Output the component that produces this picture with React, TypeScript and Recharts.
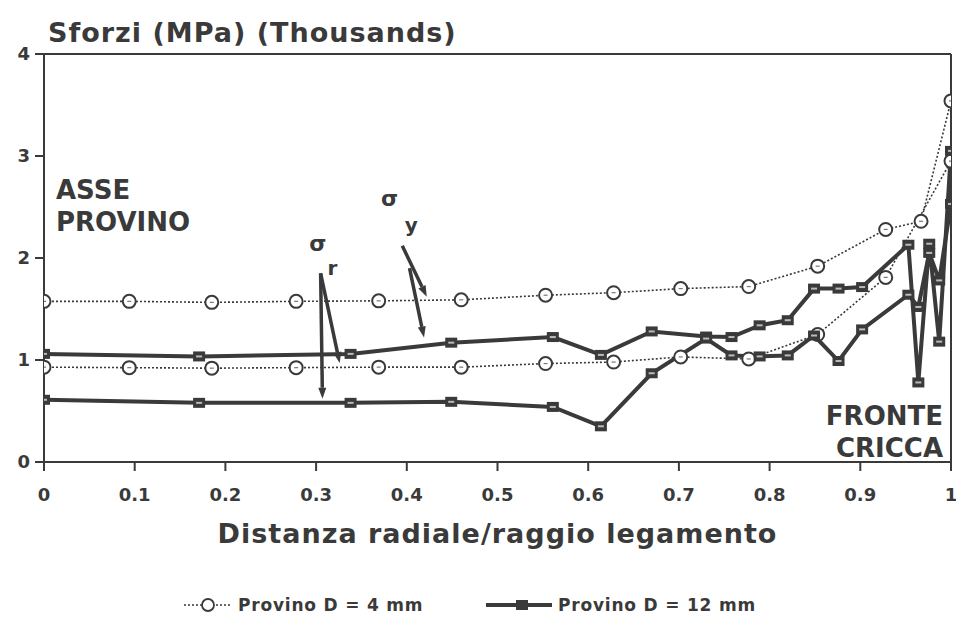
import React from "react";
import { LineChart, Line, XAxis, YAxis, ReferenceLine, ReferenceDot } from "recharts";

const xTicks = [0, 0.1, 0.2, 0.3, 0.4, 0.5, 0.6, 0.7, 0.8, 0.9, 1];
const yTicks = [0, 1, 2, 3, 4];

const d4UpperX = [0, 0.094, 0.185, 0.278, 0.369, 0.46, 0.553, 0.628, 0.702, 0.777, 0.853, 0.928, 0.967, 1.0];
const d4UpperY = [1.575, 1.575, 1.565, 1.575, 1.58, 1.59, 1.635, 1.66, 1.7, 1.72, 1.92, 2.28, 2.36, 3.54];

const d4LowerX = [0, 0.094, 0.185, 0.278, 0.369, 0.46, 0.553, 0.628, 0.702, 0.777, 0.853, 0.928, 1.0];
const d4LowerY = [0.93, 0.925, 0.92, 0.925, 0.93, 0.93, 0.965, 0.98, 1.03, 1.01, 1.25, 1.81, 2.95];

const d12X = [0, 0.171, 0.338, 0.449, 0.561, 0.614, 0.67, 0.73, 0.758, 0.789, 0.82, 0.849, 0.876, 0.902, 0.953, 0.964, 0.976, 0.987, 1.0];
const d12UpperY = [1.06, 1.035, 1.06, 1.17, 1.225, 1.05, 1.28, 1.23, 1.225, 1.34, 1.39, 1.7, 1.7, 1.715, 2.13, 0.78, 2.14, 1.18, 3.05];
const d12LowerY = [0.61, 0.58, 0.58, 0.59, 0.54, 0.35, 0.87, 1.21, 1.045, 1.035, 1.045, 1.24, 0.99, 1.3, 1.64, 1.52, 2.05, 1.78, 2.53];

const toPts = (xs: number[], ys: number[]) => xs.map((x, i) => ({ x, y: ys[i] }));

const sigmaRArrows = [
  [{ x: 0.305, y: 1.85 }, { x: 0.307, y: 0.62 }],
  [{ x: 0.305, y: 1.85 }, { x: 0.326, y: 0.97 }],
];
const sigmaYArrows = [
  [{ x: 0.395, y: 2.12 }, { x: 0.422, y: 1.62 }],
  [{ x: 0.403, y: 1.9 }, { x: 0.419, y: 1.22 }],
];
const sigmaLabels = [
  { x: 0.302, y: 2.14, t: "σ", size: 22 },
  { x: 0.318, y: 1.9, t: "r", size: 20 },
  { x: 0.381, y: 2.58, t: "σ", size: 22 },
  { x: 0.405, y: 2.32, t: "y", size: 20 },
];

const INK = "#3a3a3a";
const FONT = "'DejaVu Sans', Verdana, sans-serif";

const CircleDot = (props: any) => {
  const { cx, cy } = props;
  if (cx == null || cy == null) return null;
  return (
    <g>
      <circle cx={cx} cy={cy} r={6.5} fill="#fff" stroke={INK} strokeWidth={2} />
      <line x1={cx - 2} x2={cx + 2} y1={cy} y2={cy} stroke="#777" strokeWidth={1.2} />
    </g>
  );
};

const SquareDot = (props: any) => {
  const { cx, cy } = props;
  if (cx == null || cy == null) return null;
  return (
    <g>
      <rect x={cx - 6} y={cy - 5} width={12} height={10} fill={INK} />
      <rect x={cx - 3} y={cy - 1} width={6} height={2} fill="#bbb" />
    </g>
  );
};

const ArrowShape = (p: any) => {
  const { x1, y1, x2, y2 } = p;
  if ([x1, y1, x2, y2].some((v) => v == null || isNaN(v))) return null;
  const ang = Math.atan2(y2 - y1, x2 - x1);
  const L = 11;
  const W = 4;
  const bx = x2 - L * Math.cos(ang);
  const by = y2 - L * Math.sin(ang);
  const nx = -Math.sin(ang);
  const ny = Math.cos(ang);
  return (
    <g>
      <line x1={x1} y1={y1} x2={bx} y2={by} stroke={INK} strokeWidth={3.5} />
      <polygon
        points={`${x2},${y2} ${bx + nx * W},${by + ny * W} ${bx - nx * W},${by - ny * W}`}
        fill={INK}
      />
    </g>
  );
};

const LegendIcon = ({ kind }: { kind: "c" | "s" }) => (
  <svg width={66} height={20}>
    {kind === "c" ? (
      <g>
        <line x1={0} x2={48} y1={10} y2={10} stroke={INK} strokeWidth={1.5} strokeDasharray="2 2" />
        <circle cx={24} cy={10} r={6} fill="#fff" stroke={INK} strokeWidth={1.8} />
      </g>
    ) : (
      <g>
        <line x1={0} x2={66} y1={10} y2={10} stroke={INK} strokeWidth={4} />
        <rect x={30} y={5} width={12} height={10} fill={INK} />
      </g>
    )}
  </svg>
);

const legendText: React.CSSProperties = {
  position: "absolute",
  fontFamily: FONT,
  fontWeight: 700,
  fontSize: 17,
  letterSpacing: 0.8,
  color: INK,
  whiteSpace: "nowrap",
  lineHeight: "20px",
};

export default function App() {
  return (
    <div style={{ position: "absolute", left: 0, top: 0, width: 956, height: 619, background: "#fff" }}>
      <div
        style={{
          position: "absolute",
          left: 48,
          top: 17,
          fontFamily: FONT,
          fontWeight: 700,
          fontSize: 27,
          letterSpacing: 1,
          color: INK,
          whiteSpace: "nowrap",
        }}
      >
        Sforzi (MPa) (Thousands)
      </div>
      <LineChart width={956} height={619} margin={{ top: 54, right: 5, bottom: 0, left: 0 }}>
        <XAxis
          dataKey="x"
          type="number"
          domain={[0, 1]}
          ticks={xTicks}
          allowDataOverflow
          height={157}
          tickSize={9}
          tickMargin={17}
          stroke={INK}
          strokeWidth={2}
          tick={{ fontSize: 18, fontWeight: 700, fill: INK, fontFamily: FONT }}
          tickFormatter={(v: number) => String(v)}
          label={{
            value: "Distanza radiale/raggio legamento",
            position: "insideTop",
            offset: 62,
            style: { fontSize: 27, fontWeight: 700, fill: INK, fontFamily: FONT, letterSpacing: 1 },
          }}
        />
        <YAxis
          type="number"
          domain={[0, 4]}
          ticks={yTicks}
          width={44}
          tickSize={9}
          tickMargin={5}
          stroke={INK}
          strokeWidth={2}
          tick={{ fontSize: 18, fontWeight: 700, fill: INK, fontFamily: FONT }}
        />
        <ReferenceLine y={4} stroke={INK} strokeWidth={2} />
        <ReferenceLine x={1} stroke={INK} strokeWidth={2} />

        <Line
          data={toPts(d4UpperX, d4UpperY)}
          dataKey="y"
          type="linear"
          stroke={INK}
          strokeWidth={1.6}
          strokeDasharray="2 2"
          dot={<CircleDot />}
          isAnimationActive={false}
        />
        <Line
          data={toPts(d4LowerX, d4LowerY)}
          dataKey="y"
          type="linear"
          stroke={INK}
          strokeWidth={1.6}
          strokeDasharray="2 2"
          dot={<CircleDot />}
          isAnimationActive={false}
        />
        <Line
          data={toPts(d12X, d12UpperY)}
          dataKey="y"
          type="linear"
          stroke={INK}
          strokeWidth={4}
          dot={<SquareDot />}
          isAnimationActive={false}
        />
        <Line
          data={toPts(d12X, d12LowerY)}
          dataKey="y"
          type="linear"
          stroke={INK}
          strokeWidth={4}
          dot={<SquareDot />}
          isAnimationActive={false}
        />

        {[...sigmaRArrows, ...sigmaYArrows].map((seg, i) => (
          <ReferenceLine key={"a" + i} segment={seg as any} shape={ArrowShape} />
        ))}
        {sigmaLabels.map((l, i) => (
          <ReferenceDot
            key={"l" + i}
            x={l.x}
            y={l.y}
            r={0}
            shape={(p: any) => (
              <text
                x={p.cx}
                y={p.cy}
                textAnchor="middle"
                dominantBaseline="central"
                fontFamily={FONT}
                fontWeight={700}
                fontSize={l.size}
                fill={INK}
              >
                {l.t}
              </text>
            )}
          />
        ))}
      </LineChart>
      <div
        style={{
          position: "absolute",
          left: 56,
          top: 174,
          fontFamily: FONT,
          fontWeight: 700,
          fontSize: 26,
          lineHeight: "32px",
          color: INK,
        }}
      >
        ASSE
        <br />
        PROVINO
      </div>
      <div
        style={{
          position: "absolute",
          right: 13,
          top: 400,
          fontFamily: FONT,
          fontWeight: 700,
          fontSize: 26,
          lineHeight: "32px",
          color: INK,
          textAlign: "right",
        }}
      >
        FRONTE
        <br />
        CRICCA
      </div>
      <div style={{ position: "absolute", left: 184, top: 595 }}>
        <LegendIcon kind="c" />
      </div>
      <div style={{ ...legendText, left: 238, top: 595 }}>Provino D = 4 mm</div>
      <div style={{ position: "absolute", left: 486, top: 595 }}>
        <LegendIcon kind="s" />
      </div>
      <div style={{ ...legendText, left: 558, top: 595 }}>Provino D = 12 mm</div>
    </div>
  );
}
